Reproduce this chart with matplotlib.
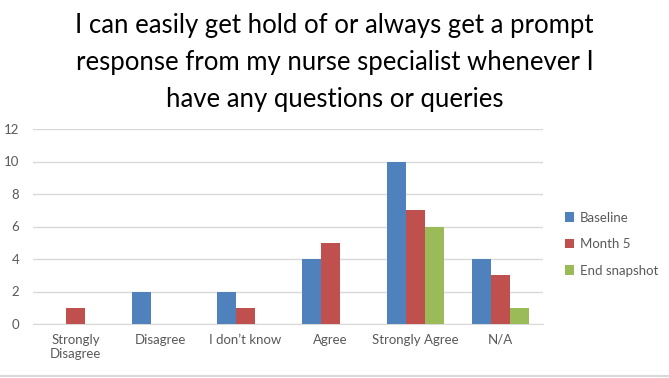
import numpy as np
import matplotlib
matplotlib.use("Agg")
import matplotlib.pyplot as plt
from matplotlib.lines import Line2D

#   ///////   data   ///////
categories  = ["Strongly\nDisagree", "Disagree", "I don\u2019t know", "Agree", "Strongly Agree", "N/A"]
baseline    = [0, 2, 2, 4, 10, 4]
month5      = [1, 0, 1, 5, 7, 3]
end_snap    = [0, 0, 0, 0, 6, 1]
series      = ["Baseline", "Month 5", "End snapshot"]
colors      = ["#4F81BD", "#C0504D", "#9BBB59"]
title       = ("I can easily get hold of or always get a prompt\n"
               "response from my nurse specialist whenever I\n"
               "have any questions or queries")

plt.rcParams['font.family'] = ['Lato', 'DejaVu Sans']

#   ///////   plot   ///////
fig = plt.figure(figsize=(6.69, 3.78), dpi=100)
ax = fig.add_axes([33/669, 1 - 324/378, 510/669, 195/378])

x = np.arange(len(categories))
w = 0.22
for i, (vals, name, c) in enumerate(zip([baseline, month5, end_snap], series, colors)):
    ax.bar(x + (i - 1)*w, vals, w, color=c, label=name, zorder=3)

ax.set_xlim(-0.5, len(categories) - 0.5)
ax.set_ylim(0, 12)
ax.set_yticks(range(0, 13, 2))
ax.set_xticks(x)
ax.set_xticklabels(categories)
ax.grid(axis='y', color='#D9D9D9', linewidth=1, zorder=0)
for s in ['top', 'right', 'left']:
    ax.spines[s].set_visible(False)
ax.spines['bottom'].set_color('#D9D9D9')
ax.tick_params(length=0, labelsize=9.5, labelcolor='#595959')
ax.tick_params(axis='x', pad=7)
ax.tick_params(axis='y', pad=10)

ax.legend(loc='center left', bbox_to_anchor=(1.02, 0.41), frameon=False,
          fontsize=9.5, labelcolor='#595959', handlelength=0.7, handleheight=0.7,
          handletextpad=0.4, labelspacing=1.1)

fig.text(0.5, 0.965, title, ha='center', va='top', fontsize=18.5, linespacing=1.6)

# thin grey frame edge along the bottom
fig.add_artist(Line2D([0, 1], [0.004, 0.004], transform=fig.transFigure,
                      color='#D9D9D9', linewidth=1.5))

fig.savefig("out.png", dpi=100)
